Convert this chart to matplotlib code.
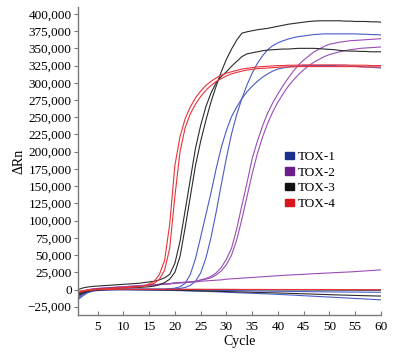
import matplotlib
matplotlib.use("Agg")
import matplotlib.pyplot as plt
from matplotlib.patches import Patch
from matplotlib.ticker import FuncFormatter, MultipleLocator

plt.rcParams["font.family"] = ["Liberation Serif", "DejaVu Serif"]

cycles = list(range(1, 61))

# delta Rn values, in thousands, one value per cycle (1..60)
tox1_a = [-9, -5, -2.5, -1, 0, 0.5, 0.5, 0.5, 0.5, 0.5,
          0.5, 0.5, 0.5, 0.5, 0.5, 0.5, 0.5, 0.5, 1, 1,
          1.5, 3, 6, 12, 24, 45, 75, 112, 152, 191,
          226, 254, 277, 297, 314, 328, 339, 348, 354, 358,
          361, 363.5, 365.5, 367, 368, 369, 370, 370.5, 371, 371,
          371, 371, 371, 371, 371, 370.5, 370.5, 370, 370, 369.5]
tox1_b = [-12, -7, -3.5, -1.5, -0.5, 0, 0.5, 0.5, 0.5, 0.5,
          0.5, 0.5, 0.5, 0.5, 0.5, 0.5, 0.5, 0.5, 1, 2,
          4, 9, 22, 45, 76, 108, 140, 175, 206, 231,
          251, 265, 277, 287, 295, 302, 308, 313, 317, 320,
          321.5, 323, 324, 324.5, 325, 325, 325, 325, 325, 325,
          325, 324.5, 324.5, 324, 324, 323.5, 323, 322.5, 322, 321.5]
tox2_a = [-6, -3, -1, 0.5, 1.5, 2, 2.5, 3, 3.5, 4,
          4.5, 5, 5.5, 6, 6.5, 7, 7.5, 8, 8.5, 9.5,
          10, 10.5, 11, 12, 14, 16, 19, 24, 32, 44,
          60, 88, 122, 155, 190, 215, 237, 256, 271, 284,
          296, 307, 317, 326, 333, 339, 345, 349, 353, 356,
          357.5, 359, 360, 361, 361.5, 362, 362.5, 363, 363.5, 364]
tox2_b = [-5, -2.5, -0.5, 1, 1.5, 2, 2.5, 3, 3.5, 4,
          4.5, 5, 5.5, 6, 6.5, 7, 7.5, 8, 8.5, 9.5,
          10, 10.5, 11, 11.5, 13.5, 15, 17, 21, 27, 36,
          50, 72, 102, 135, 168, 197, 221, 241, 258, 272,
          284, 295, 304, 312, 319, 325, 330, 334, 338, 341,
          343, 345, 346.5, 348, 349, 350, 350.5, 351, 351.5, 352]
tox3_a = [-8, -4, -2, -0.5, 0.5, 1, 1.5, 2, 2, 2.5,
          2.5, 3, 3, 3.5, 4, 5, 7, 10, 15, 25,
          48, 90, 135, 180, 215, 245, 272, 295, 316, 334,
          349, 362, 372, 374, 375.5, 377, 378, 379, 380.5, 382,
          383.5, 385, 386, 387, 388, 389, 389.5, 390, 390, 390,
          390, 390, 389.5, 389.5, 389, 389, 389, 388.5, 388.5, 388]
tox3_b = [-1, 2, 3.5, 4.5, 5, 5.5, 6, 6.5, 7, 7.5,
          8, 8.5, 9, 10, 11, 12, 14, 17, 22, 38,
          70, 115, 160, 205, 238, 265, 285, 300, 309, 316,
          324, 331, 338, 342, 343.5, 345, 346.5, 347.5, 348, 348.5,
          349, 349, 349.5, 350, 350, 350, 350, 349.5, 349, 348.5,
          348, 347, 346.5, 346, 346, 345.5, 345.5, 345, 345, 345]
tox4_a = [-5, -3, -1.5, -0.5, 0, 0.5, 1, 1.5, 2, 2.5,
          3, 3.5, 4, 5, 8, 12, 22, 42, 95, 180,
          222, 248, 265, 278, 288, 296, 302, 307, 311, 314,
          316, 318, 320, 321, 322, 323, 323.5, 324, 324.5, 325,
          325, 325.5, 325.5, 325.5, 326, 326, 326, 326, 326, 326,
          326, 326, 326, 325.5, 325.5, 325.5, 325.5, 325, 325, 325]
tox4_b = [-3, -2, -1, 0, 0.5, 1, 1.5, 2, 2.5, 3,
          3.5, 4, 4.5, 5, 6.5, 9, 15, 28, 60, 135,
          200, 235, 255, 269, 280, 289, 296, 302, 306, 310,
          313, 315, 317, 318.5, 319.5, 320.5, 321, 321.5, 322, 322.5,
          323, 323, 323, 323.5, 323.5, 323.5, 323.5, 323.5, 323.5, 323.5,
          323.5, 323.5, 323.5, 323.5, 323.5, 323, 323, 323, 323, 323]

# flat (non-amplifying) traces
tox2_flat = [-6.5, -3.5, -1.5, 0, 1, 1.5, 2, 2.5, 3, 3.5,
             4, 4.5, 5, 5.5, 6, 6.5, 7, 7.5, 8, 9,
             9.5, 10, 10.5, 11, 12, 12.5, 13, 13.5, 14, 15,
             15.5, 16, 16.5, 17, 17.5, 18, 18.5, 19, 19.5, 20,
             20.5, 21, 21.3, 21.7, 22, 22.5, 23, 23.3, 23.7, 24,
             24.5, 24.8, 25.2, 25.5, 26, 26.5, 27, 27.5, 28, 28.5]
tox1_flat1 = [-14, -8, -4, -2, -1, -0.5, -0.3, -0.2, 0, 0,
              0, 0, 0, 0, 0, -0.1, -0.2, -0.3, -0.4, -0.5,
              -0.6, -0.7, -0.8, -0.9, -1, -1.1, -1.2, -1.3, -1.4, -1.5,
              -1.6, -1.7, -1.8, -1.9, -2, -2.1, -2.2, -2.3, -2.4, -2.5,
              -2.6, -2.7, -2.8, -2.9, -3, -3.1, -3.2, -3.3, -3.4, -3.5,
              -3.5, -3.6, -3.6, -3.7, -3.7, -3.8, -3.8, -3.9, -3.9, -4]
tox1_flat2 = [-16, -10, -5, -2.5, -1.5, -1, -0.8, -0.6, -0.5, -0.5,
              -0.5, -0.6, -0.7, -0.8, -0.9, -1, -1.1, -1.2, -1.3, -1.5,
              -1.7, -1.9, -2.1, -2.3, -2.5, -2.7, -3, -3.3, -3.6, -4,
              -4.3, -4.6, -4.9, -5.2, -5.5, -5.8, -6.1, -6.4, -6.7, -7,
              -7.4, -7.8, -8.2, -8.6, -9, -9.4, -9.8, -10.2, -10.6, -11,
              -11.4, -11.8, -12.2, -12.6, -13, -13.4, -13.8, -14.2, -14.6, -15]
tox3_flat1 = [-7, -4, -2, -1, -0.5, -0.2, 0, 0, 0, 0,
              0, 0, 0, 0, 0, 0, 0, 0, 0, 0,
              0, 0, 0, 0, 0, 0, 0, 0, 0, 0,
              -0.1, -0.1, -0.2, -0.2, -0.3, -0.3, -0.4, -0.4, -0.5, -0.5,
              -0.5, -0.6, -0.6, -0.6, -0.7, -0.7, -0.7, -0.8, -0.8, -0.8,
              -0.8, -0.9, -0.9, -0.9, -0.9, -1, -1, -1, -1, -1]
tox3_flat2 = [-10, -6, -3, -1.5, -1, -0.5, 0, 0, 0, 0,
              0, -0.1, -0.2, -0.3, -0.4, -0.5, -0.6, -0.7, -0.8, -1,
              -1.2, -1.4, -1.6, -1.8, -2, -2.2, -2.4, -2.6, -2.8, -3,
              -3.2, -3.4, -3.6, -3.8, -4, -4.2, -4.4, -4.6, -4.8, -5,
              -5.2, -5.5, -5.7, -6, -6.2, -6.5, -6.7, -7, -7.2, -7.5,
              -7.7, -8, -8.2, -8.4, -8.6, -8.8, -9, -9.2, -9.4, -9.5]
tox4_flat = [-4, -2, -1, -0.5, 0, 0.2, 0.3, 0.3, 0.3, 0.3,
             0.3, 0.3, 0.3, 0.3, 0.3, 0.3, 0.3, 0.3, 0.3, 0.3,
             0.3, 0.3, 0.3, 0.3, 0.3, 0.2, 0.2, 0.2, 0.2, 0.2,
             0.2, 0.2, 0.1, 0.1, 0.1, 0.1, 0.1, 0, 0, 0,
             0, 0, 0, 0, 0, 0, 0, 0, 0, 0,
             -0.1, -0.1, -0.1, -0.1, -0.1, -0.2, -0.2, -0.2, -0.2, -0.2]

names = ["TOX-1", "TOX-2", "TOX-3", "TOX-4"]
legend_colors = ["#1c2f8c", "#6b1e8a", "#111111", "#d9141c"]
line_colors = ["#4a5bc6", "#9a4db6", "#2b2b2b", "#e8323a"]

groups = [
    [tox1_a, tox1_b, tox1_flat1, tox1_flat2],
    [tox2_a, tox2_b, tox2_flat],
    [tox3_a, tox3_b, tox3_flat1, tox3_flat2],
    [tox4_a, tox4_b, tox4_flat],
]

fig = plt.figure(figsize=(4.02, 3.54), dpi=100)
ax = fig.add_axes([78 / 402, 1 - 315 / 354, 303 / 402, 308 / 354])

for traces, col in zip(groups, line_colors):
    for tr in traces:
        ax.plot(cycles, [v * 1000 for v in tr], color=col, lw=0.8)

ax.set_xlim(1.2, 60)
ax.set_ylim(-37000, 410000)
ax.xaxis.set_major_locator(MultipleLocator(5))
ax.yaxis.set_major_locator(MultipleLocator(25000))
ax.yaxis.set_major_formatter(FuncFormatter(lambda v, p: f"{v:,.0f}".replace("-", "\u2212")))

for s in ["top", "right"]:
    ax.spines[s].set_visible(False)
for s in ["left", "bottom"]:
    ax.spines[s].set_color("#7a7a7a")
    ax.spines[s].set_linewidth(1.0)

ax.tick_params(axis="y", direction="out", length=3, width=0.8, color="#7a7a7a",
               labelsize=9.5, pad=1.5)
ax.tick_params(axis="x", direction="in", length=3, width=0.8, color="#7a7a7a",
               labelsize=9.5, pad=4)

ax.set_xlabel("Cycle", fontsize=10, labelpad=1)
ax.set_ylabel("\u0394Rn", fontsize=10, labelpad=2)
ax.xaxis.set_label_coords((240 - 78) / 303, -0.065)

handles = [Patch(facecolor=c, edgecolor=c) for c in legend_colors]
ax.legend(handles, names, loc="upper left", bbox_to_anchor=(285 / 402, 1 - 151 / 354),
          bbox_transform=fig.transFigure, frameon=False, fontsize=9.5,
          handlelength=0.7, handleheight=0.5, handletextpad=0.3,
          labelspacing=0.28, borderpad=0, borderaxespad=0)

fig.savefig("out.png", dpi=100)
